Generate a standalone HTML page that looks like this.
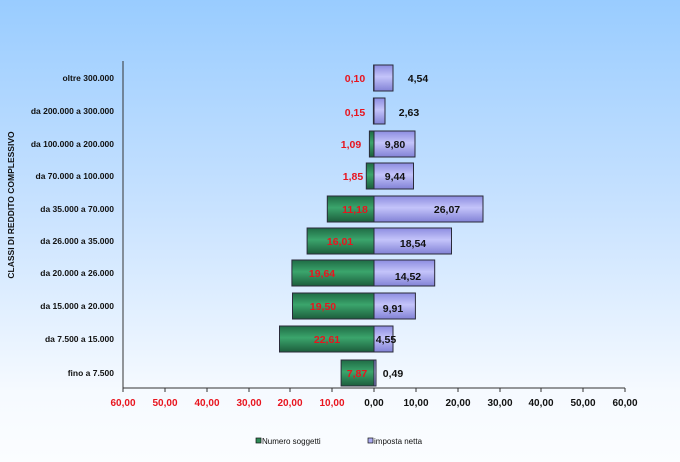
<!DOCTYPE html>
<html><head><meta charset="utf-8"><style>
html,body{margin:0;padding:0;width:680px;height:462px;overflow:hidden;background:#fbfdff}
.bg{position:absolute;left:0;top:0;width:680px;height:462px;background:linear-gradient(#99ccff 0%,#c8e2ff 45%,#f6faff 85%,#fbfdff 100%)}
svg{position:absolute;left:0;top:0}
</style></head><body>
<div class="bg"></div>
<svg width="680" height="462" viewBox="0 0 680 462" xmlns="http://www.w3.org/2000/svg" font-family="Liberation Sans, sans-serif">
<defs>
<linearGradient id="g" x1="0" y1="0" x2="0" y2="1"><stop offset="0" stop-color="#1f6b45"/><stop offset="0.45" stop-color="#3ba56c"/><stop offset="1" stop-color="#1c5e3c"/></linearGradient>
<linearGradient id="p" x1="0" y1="0" x2="0" y2="1"><stop offset="0" stop-color="#8c8ce0"/><stop offset="0.45" stop-color="#c4c4fa"/><stop offset="1" stop-color="#8282d6"/></linearGradient>
</defs>
<line x1="123" y1="61" x2="123" y2="388" stroke="#333" stroke-width="1"/>
<line x1="123" y1="388" x2="625" y2="388" stroke="#333" stroke-width="1"/>
<g stroke="#333">
<line x1="123" y1="388" x2="123" y2="392"/><line x1="165" y1="388" x2="165" y2="392"/><line x1="207" y1="388" x2="207" y2="392"/><line x1="249" y1="388" x2="249" y2="392"/><line x1="290" y1="388" x2="290" y2="392"/><line x1="332" y1="388" x2="332" y2="392"/><line x1="374" y1="388" x2="374" y2="392"/><line x1="416" y1="388" x2="416" y2="392"/><line x1="458" y1="388" x2="458" y2="392"/><line x1="500" y1="388" x2="500" y2="392"/><line x1="541" y1="388" x2="541" y2="392"/><line x1="583" y1="388" x2="583" y2="392"/><line x1="625" y1="388" x2="625" y2="392"/>
</g>
<g font-size="10" font-weight="bold" text-anchor="middle">
<g fill="#e8141e"><text x="123" y="406">60,00</text><text x="165" y="406">50,00</text><text x="207" y="406">40,00</text><text x="249" y="406">30,00</text><text x="290" y="406">20,00</text><text x="332" y="406">10,00</text></g>
<g fill="#111"><text x="374" y="406">0,00</text><text x="416" y="406">10,00</text><text x="458" y="406">20,00</text><text x="500" y="406">30,00</text><text x="541" y="406">40,00</text><text x="583" y="406">50,00</text><text x="625" y="406">60,00</text></g>
</g>
<g font-size="8.5" font-weight="bold" fill="#111" text-anchor="end">
<text x="114" y="81">oltre 300.000</text>
<text x="114" y="114">da 200.000 a 300.000</text>
<text x="114" y="147">da 100.000 a 200.000</text>
<text x="114" y="179">da 70.000 a 100.000</text>
<text x="114" y="212">da 35.000 a 70.000</text>
<text x="114" y="244">da 26.000 a 35.000</text>
<text x="114" y="276">da 20.000 a 26.000</text>
<text x="114" y="309">da 15.000 a 20.000</text>
<text x="114" y="342">da 7.500 a 15.000</text>
<text x="114" y="376">fino a 7.500</text>
</g>
<text transform="translate(14,205) rotate(-90)" font-size="8.5" font-weight="bold" fill="#111" text-anchor="middle">CLASSI DI REDDITO COMPLESSIVO</text>
<g stroke="#2a2a3a" stroke-width="1">
<rect x="373.6" y="65" width="0.4" height="26" fill="url(#g)"/><rect x="374" y="65" width="19" height="26" fill="url(#p)"/>
<rect x="373.4" y="98" width="0.6" height="26" fill="url(#g)"/><rect x="374" y="98" width="11" height="26" fill="url(#p)"/>
<rect x="369.4" y="131" width="4.6" height="26" fill="url(#g)"/><rect x="374" y="131" width="41" height="26" fill="url(#p)"/>
<rect x="366.3" y="163" width="7.7" height="26" fill="url(#g)"/><rect x="374" y="163" width="39.5" height="26" fill="url(#p)"/>
<rect x="327.3" y="196" width="46.7" height="26" fill="url(#g)"/><rect x="374" y="196" width="109" height="26" fill="url(#p)"/>
<rect x="307.1" y="228" width="66.9" height="26" fill="url(#g)"/><rect x="374" y="228" width="77.5" height="26" fill="url(#p)"/>
<rect x="291.9" y="260" width="82.1" height="26" fill="url(#g)"/><rect x="374" y="260" width="60.7" height="26" fill="url(#p)"/>
<rect x="292.5" y="293" width="81.5" height="26" fill="url(#g)"/><rect x="374" y="293" width="41.4" height="26" fill="url(#p)"/>
<rect x="279.5" y="326" width="94.5" height="26" fill="url(#g)"/><rect x="374" y="326" width="19" height="26" fill="url(#p)"/>
<rect x="341.1" y="360" width="32.9" height="26" fill="url(#g)"/><rect x="374" y="360" width="2" height="26" fill="url(#p)"/>
</g>
<g font-size="10.5" font-weight="bold" text-anchor="middle">
<g fill="#e8141e">
<text x="355" y="82">0,10</text><text x="355" y="116">0,15</text><text x="351" y="148">1,09</text><text x="353" y="180">1,85</text>
<text x="355" y="213">11,18</text><text x="340" y="245">16,01</text><text x="322" y="277">19,64</text><text x="323" y="310">19,50</text>
<text x="327" y="343">22,61</text><text x="357" y="377">7,87</text></g>
<g fill="#111">
<text x="418" y="82">4,54</text><text x="409" y="116">2,63</text><text x="395" y="148">9,80</text><text x="395" y="180">9,44</text>
<text x="447" y="213">26,07</text><text x="413" y="247">18,54</text><text x="408" y="280">14,52</text><text x="393" y="312">9,91</text>
<text x="386" y="343">4,55</text><text x="393" y="377">0,49</text></g>
</g>
<g font-size="8" fill="#111">
<rect x="256" y="438" width="5" height="5" fill="#2e8b57" stroke="#111" stroke-width="0.7"/><text x="262" y="444">Numero soggetti</text>
<rect x="368" y="438" width="5" height="5" fill="#aaaaf0" stroke="#111" stroke-width="0.7"/><text x="374" y="444">imposta netta</text>
</g>
</svg>
</body></html>
